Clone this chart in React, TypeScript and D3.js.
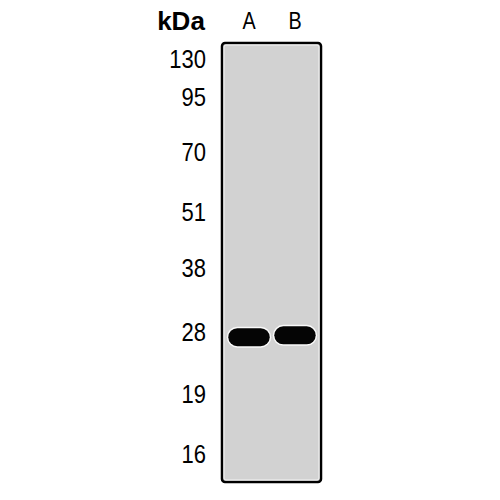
import * as d3 from 'd3';

// marker ladder (kDa) and relative migration down the gel (0 = top, 1 = bottom)
const markerLabels = ['130', '95', '70', '51', '38', '28', '19', '16'];
const markerRf = [0.036, 0.123, 0.248, 0.385, 0.513, 0.658, 0.8, 0.936];

// sample lanes and the band seen in each
const lanes = ['A', 'B'];
const bandRf = [0.67, 0.666];

const width = 500;
const height = 500;
const gelLeft = 222;
const gelRight = 321;
const gelTop = 43;
const gelBottom = 482;

export default function App() {
  const y = d3.scaleLinear([0, 1], [gelTop, gelBottom]);
  const x = d3.scaleBand(lanes, [226, 318]).paddingInner(0.1).paddingOuter(0.05);
  const bw = x.bandwidth();
  const bandH = 18;

  return (
    <svg
      width={width}
      height={height}
      style={{ position: 'absolute', left: 0, top: 0, background: '#fff' }}
      fontFamily="'Liberation Sans', Arial, sans-serif"
    >
      {/* gel panel */}
      <rect
        x={gelLeft}
        y={gelTop}
        width={gelRight - gelLeft}
        height={gelBottom - gelTop}
        rx={3}
        fill="#d2d2d2"
        stroke="#000"
        strokeWidth={2.5}
      />
      <rect
        x={gelLeft + 2}
        y={gelTop + 2}
        width={gelRight - gelLeft - 4}
        height={gelBottom - gelTop - 4}
        rx={2}
        fill="none"
        stroke="#f4f4f4"
        strokeWidth={1}
      />

      {/* header */}
      <text
        x={181}
        y={21}
        dy="0.36em"
        textAnchor="middle"
        fontWeight="bold"
        fontSize={26}
        fill="#000"
      >
        kDa
      </text>
      {lanes.map((l) => (
        <text
          key={l}
          transform={`translate(${x(l)! + bw / 2},21) scale(0.9,1.05)`}
          dy="0.36em"
          textAnchor="middle"
          fontSize={22}
          fill="#000"
        >
          {l}
        </text>
      ))}

      {/* ladder labels */}
      {markerLabels.map((m, i) => (
        <text
          key={m}
          transform={`translate(206,${y(markerRf[i])}) scale(0.88,1)`}
          dy="0.36em"
          textAnchor="end"
          fontSize={25}
          fill="#000"
        >
          {m}
        </text>
      ))}

      {/* bands */}
      {lanes.map((l, i) => (
        <g key={l}>
          <rect
            x={x(l)! - 1.5}
            y={y(bandRf[i]) - bandH / 2 - 1.5}
            width={bw + 3}
            height={bandH + 3}
            rx={(bandH + 3) / 2}
            fill="#fafafa"
          />
          <rect
            x={x(l)!}
            y={y(bandRf[i]) - bandH / 2}
            width={bw}
            height={bandH}
            rx={bandH / 2}
            fill="#050505"
          />
        </g>
      ))}
    </svg>
  );
}
